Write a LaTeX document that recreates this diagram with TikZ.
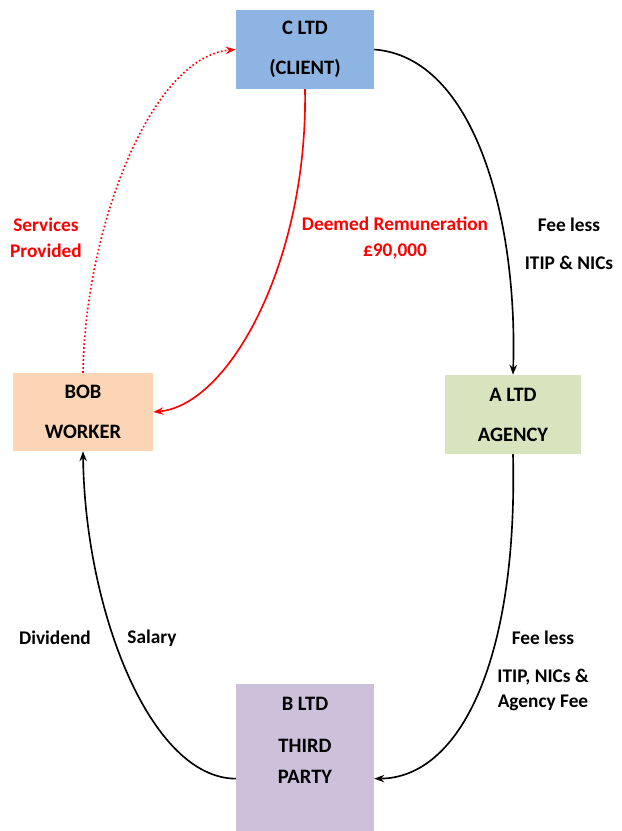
\documentclass[tikz,border=0pt]{standalone}
\usepackage{fontspec}
\setmainfont{Carlito}
\usetikzlibrary{arrows.meta}
\definecolor{clientblue}{HTML}{8EB4E3}
\definecolor{workerpeach}{HTML}{FBD5B5}
\definecolor{agencygreen}{HTML}{D7E4BD}
\definecolor{thirdlilac}{HTML}{CCC0DA}
\tikzset{
>={Stealth[length=3mm,width=2.2mm]}, % small solid arrow heads
party/.style={align=center, font=\bfseries\fontsize{17.5}{22}\selectfont, inner sep=0pt}, % the four boxes
flow/.style={->, line width=1.4pt}, % money and service edges
note/.style={align=center, font=\bfseries\fontsize{16.5}{20}\selectfont}, % edge labels
}

\begin{document}
\begin{tikzpicture}[x=0.03cm, y=-0.03cm]
\useasboundingbox (0,0) rectangle (622,831);
% boxes
\node[party, fill=clientblue, minimum width=138*0.03cm, minimum height=79*0.03cm] (cltd) at (305,49.5) {C LTD\\[12pt](CLIENT)};
\node[party, fill=workerpeach, minimum width=140*0.03cm, minimum height=78*0.03cm] (bob) at (83,412) {BOB\\[12pt]WORKER};
\node[party, fill=agencygreen, minimum width=136*0.03cm, minimum height=79*0.03cm] (altd) at (513,414.5) {A LTD\\[12pt]AGENCY};
\node[party, fill=thirdlilac, minimum width=138*0.03cm, minimum height=147*0.03cm] (bltd) at (305,757.5) {};
\node[party, anchor=north] (bltdtext) at (305,697) {B LTD\\[14pt]THIRD\\[4pt]PARTY};
% edges
\draw[flow] (cltd.east) .. controls (475,57) and (518,220) .. (altd.north);
\draw[flow] (altd.south) .. controls (518,660) and (460,778) .. (bltd.-17);
\draw[flow] (bltd.197) .. controls (150,778) and (85,610) .. (bob.south);
\draw[flow, red] (cltd.south) .. controls (308,260) and (230,405) .. (bob.east);
\draw[flow, red, dotted] (bob.north) .. controls (85,230) and (150,57) .. (cltd.west);
% labels
\node[note, red] (services) at (46,238) {Services\\[2pt]Provided};
\node[note, red] (deemed) at (395,238) {Deemed Remuneration\\[2pt]£90,000};
\node[note] (feeone) at (569,244) {Fee less\\[12pt]ITIP \& NICs};
\node[note] (dividend) at (55,638) {Dividend};
\node[note] (salary) at (152,638) {Salary};
\node[note, anchor=north] (feetwo) at (543,627) {Fee less\\[12pt]ITIP, NICs \&\\[2pt]Agency Fee};
\end{tikzpicture}
\end{document}
